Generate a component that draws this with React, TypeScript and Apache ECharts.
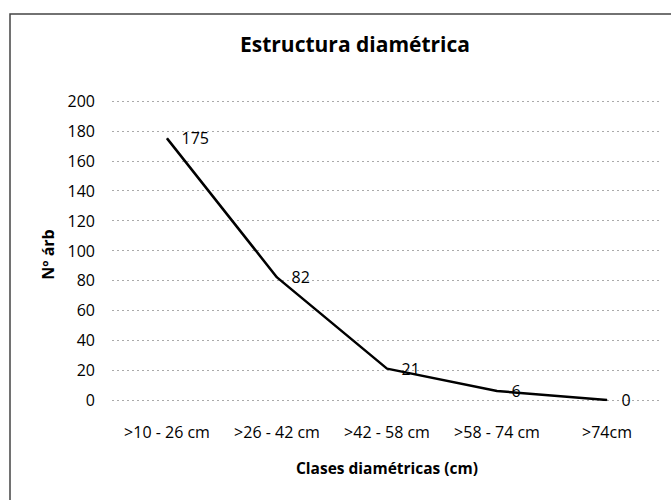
import React, { useEffect, useRef } from "react";
import * as echarts from "echarts";

const categories = [">10 - 26 cm", ">26 - 42 cm", ">42 - 58 cm", ">58 - 74 cm", ">74cm"];
const values = [175, 82, 21, 6, 0];
const titleText = "Estructura diamétrica";
const xName = "Clases diamétricas (cm)";
const yName = "Nº árb";

const FONT = "'Open Sans', 'Noto Sans', sans-serif";

export default function App() {
  const ref = useRef<HTMLDivElement>(null);
  useEffect(() => {
    document.body.style.margin = "0";
    const chart = echarts.init(ref.current!, null, { renderer: "svg" });
    chart.setOption({
      animation: false,
      backgroundColor: "#ffffff",
      textStyle: { fontFamily: FONT },
      title: {
        text: titleText,
        left: 350,
        textAlign: "center",
        top: 28,
        textStyle: { fontFamily: FONT, fontSize: 21, fontWeight: "bold", color: "#000" },
      },
      graphic: [
        {
          type: "rect",
          shape: { x: 10, y: 14, width: 700, height: 520 },
          style: { fill: "none", stroke: "#444", lineWidth: 1.5 },
          silent: true,
        },
      ],
      grid: { left: 112, right: 9, top: 101, bottom: 100, containLabel: false },
      xAxis: {
        type: "category",
        data: categories,
        boundaryGap: true,
        axisLine: { show: false },
        axisTick: { show: false },
        axisLabel: { color: "#000", fontSize: 16, fontFamily: FONT, margin: 24, interval: 0 },
        name: xName,
        nameLocation: "middle",
        nameGap: 60,
        nameTextStyle: { color: "#000", fontSize: 15.5, fontWeight: "bold", fontFamily: FONT },
      },
      yAxis: {
        type: "value",
        min: 0,
        max: 200,
        interval: 20,
        axisLine: { show: false },
        axisTick: { show: false },
        axisLabel: { color: "#000", fontSize: 16, fontFamily: FONT, margin: 17 },
        splitLine: { lineStyle: { color: "#aaa", type: [2, 3], width: 1 } },
        name: yName,
        nameLocation: "middle",
        nameRotate: 90,
        nameGap: 56,
        nameTextStyle: { color: "#000", fontSize: 16, fontWeight: "bold", fontFamily: FONT, padding: [0, 0, 0, -8] },
      },
      series: [
        {
          type: "line",
          data: values,
          symbol: "circle",
          symbolSize: 1,
          showSymbol: true,
          itemStyle: { color: "#000" },
          lineStyle: { color: "#000", width: 2.5 },
          label: {
            show: true,
            position: "right",
            distance: 14,
            color: "#000",
            fontSize: 16,
            fontFamily: FONT,
          },
        },
      ],
    });
    return () => chart.dispose();
  }, []);
  return <div ref={ref} style={{ width: 671, height: 500 }} />;
}
